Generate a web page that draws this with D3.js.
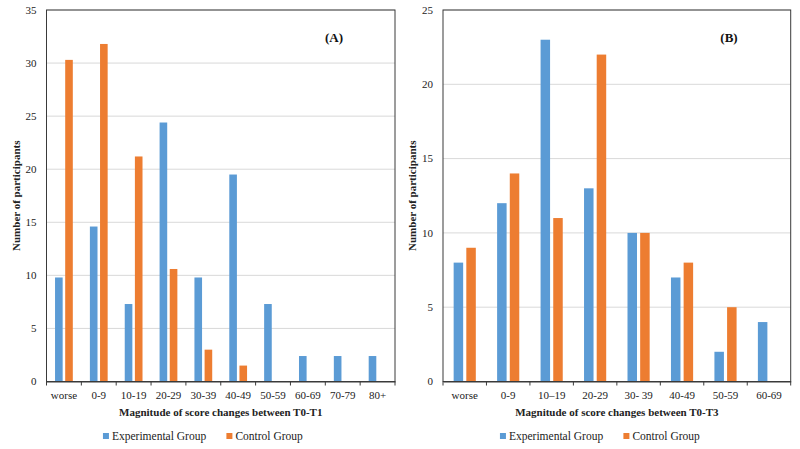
<!DOCTYPE html>
<html>
<head>
<meta charset="utf-8">
<script src="https://cdn.jsdelivr.net/npm/d3@7"></script>
<style>
  body { margin: 0; background: #fff; }
  svg { display: block; font-family: "Liberation Serif", "Times New Roman", serif; }
</style>
</head>
<body>
<div id="chart"></div>
<script>
'use strict';

// Panel A: score change T0-T1 (percent of participants)
const categoriesA = ['worse', '0-9', '10-19', '20-29', '30-39', '40-49', '50-59', '60-69', '70-79', '80+'];
const experimentalA = [9.8, 14.6, 7.3, 24.4, 9.8, 19.5, 7.3, 2.4, 2.4, 2.4];
const controlA = [30.3, 31.8, 21.2, 10.6, 3.0, 1.5, 0, 0, 0, 0];
const yTicksA = [0, 5, 10, 15, 20, 25, 30, 35];

// Panel B: score change T0-T3
const categoriesB = ['worse', '0-9', '10\u201319', '20-29', '30- 39', '40-49', '50-59', '60-69'];
const experimentalB = [8, 12, 23, 13, 10, 7, 2, 4];
const controlB = [9, 14, 11, 22, 10, 8, 5, 0];
const yTicksB = [0, 5, 10, 15, 20, 25];

const seriesNames = ['Experimental Group', 'Control Group'];
const colors = ['#5b9bd5', '#ed7d31'];

const width = 800;
const height = 449;

const svg = d3.select('#chart').append('svg')
    .attr('width', width)
    .attr('height', height);

svg.append('rect').attr('width', width).attr('height', height).attr('fill', '#fff');

const drawPanel = function(opts) {
    const plotTop = 10;
    const plotBottom = 381.5;
    const left = opts.left;
    const right = opts.right;

    const g = svg.append('g');

    const x0 = d3.scaleBand()
        .domain(opts.categories)
        .range([left, right])
        .paddingInner(0.49)
        .paddingOuter(0.245);

    const x1 = d3.scaleBand()
        .domain(seriesNames)
        .range([0, x0.bandwidth()])
        .paddingInner(0.25);

    const y = d3.scaleLinear()
        .domain([0, d3.max(opts.yTicks)])
        .range([plotBottom, plotTop]);

    // gridlines
    g.append('g')
        .selectAll('line')
        .data(opts.yTicks.filter(d => d > 0))
        .enter().append('line')
        .attr('x1', left).attr('x2', right)
        .attr('y1', d => y(d)).attr('y2', d => y(d))
        .attr('stroke', '#d9d9d9')
        .attr('stroke-width', 1);

    // y tick labels
    g.append('g')
        .selectAll('text')
        .data(opts.yTicks)
        .enter().append('text')
        .attr('x', left - 10)
        .attr('y', d => y(d))
        .attr('dy', '0.35em')
        .attr('text-anchor', 'end')
        .style('font-size', '11px')
        .attr('fill', '#222')
        .text(d => d);

    // bars
    const rows = opts.categories.map((c, i) => ({
        cat: c,
        values: [opts.experimental[i], opts.control[i]]
    }));

    const groups = g.append('g')
        .selectAll('g')
        .data(rows)
        .enter().append('g')
        .attr('transform', d => `translate(${x0(d.cat)},0)`);

    groups.selectAll('rect')
        .data(d => d.values.map((v, j) => ({ name: seriesNames[j], value: v, color: colors[j] })))
        .enter().append('rect')
        .filter(d => d.value > 0)
        .attr('x', d => x1(d.name))
        .attr('width', x1.bandwidth())
        .attr('y', d => y(d.value))
        .attr('height', d => y(0) - y(d.value))
        .attr('fill', d => d.color);

    // frame
    g.append('rect')
        .attr('x', left).attr('y', plotTop)
        .attr('width', right - left).attr('height', plotBottom - plotTop)
        .attr('fill', 'none')
        .attr('stroke', '#3a3a3a')
        .attr('stroke-width', 1);

    // x axis with ticks at category boundaries
    const xAxis = d3.axisBottom(x0).tickSize(0).tickPadding(10);
    const axisG = g.append('g')
        .attr('transform', `translate(0,${plotBottom})`)
        .call(xAxis);
    axisG.select('.domain').attr('stroke', '#3a3a3a');
    axisG.selectAll('text')
        .style('font-size', '11px')
        .style('font-family', '"Liberation Serif", serif')
        .attr('fill', '#222');

    const boundaries = d3.range(opts.categories.length + 1).map(i => left + i * x0.step());
    g.append('g')
        .selectAll('line')
        .data(boundaries)
        .enter().append('line')
        .attr('x1', d => d).attr('x2', d => d)
        .attr('y1', plotBottom).attr('y2', plotBottom + 4)
        .attr('stroke', '#3a3a3a');

    // axis titles
    g.append('text')
        .attr('x', (left + right) / 2)
        .attr('y', 416)
        .attr('text-anchor', 'middle')
        .style('font-size', '11px')
        .style('font-weight', 'bold')
        .attr('fill', '#222')
        .text(opts.xTitle);

    g.append('text')
        .attr('transform', `translate(${opts.yTitleX},${(plotTop + plotBottom) / 2}) rotate(-90)`)
        .attr('text-anchor', 'middle')
        .attr('dy', '0.35em')
        .style('font-size', '11px')
        .style('font-weight', 'bold')
        .attr('fill', '#222')
        .text('Number of participants');

    // panel label
    g.append('text')
        .attr('x', opts.labelX)
        .attr('y', 42)
        .attr('text-anchor', 'middle')
        .style('font-size', '13px')
        .style('font-weight', 'bold')
        .attr('fill', '#111')
        .text(opts.label);

    // legend, centred in the panel area
    const legend = g.append('g').attr('class', 'legend');
    const items = legend.selectAll('g')
        .data(seriesNames)
        .enter().append('g');
    items.append('rect')
        .attr('width', 6).attr('height', 6)
        .attr('y', 433)
        .attr('fill', (d, i) => colors[i]);
    items.append('text')
        .attr('x', 9)
        .attr('y', 440)
        .style('font-size', '11.5px')
        .attr('fill', '#222')
        .text(d => d);

    let offset = 0;
    const widths = [];
    items.each(function() {
        widths.push(this.getBBox().width);
    });
    const gap = 20;
    const total = d3.sum(widths) + gap * (widths.length - 1);
    offset = opts.legendCenter - total / 2;
    items.attr('transform', function(d, i) {
        const tx = offset;
        offset += widths[i] + gap;
        return `translate(${tx},0)`;
    });
};

drawPanel({
    categories: categoriesA,
    experimental: experimentalA,
    control: controlA,
    yTicks: yTicksA,
    left: 46.5,
    right: 395,
    xTitle: 'Magnitude of score changes between T0-T1',
    yTitleX: 16,
    label: '(A)',
    labelX: 334,
    legendCenter: 203
});

drawPanel({
    categories: categoriesB,
    experimental: experimentalB,
    control: controlB,
    yTicks: yTicksB,
    left: 443,
    right: 790.7,
    xTitle: 'Magnitude of score changes between T0-T3',
    yTitleX: 412,
    label: '(B)',
    labelX: 729,
    legendCenter: 600
});
</script>
</body>
</html>
